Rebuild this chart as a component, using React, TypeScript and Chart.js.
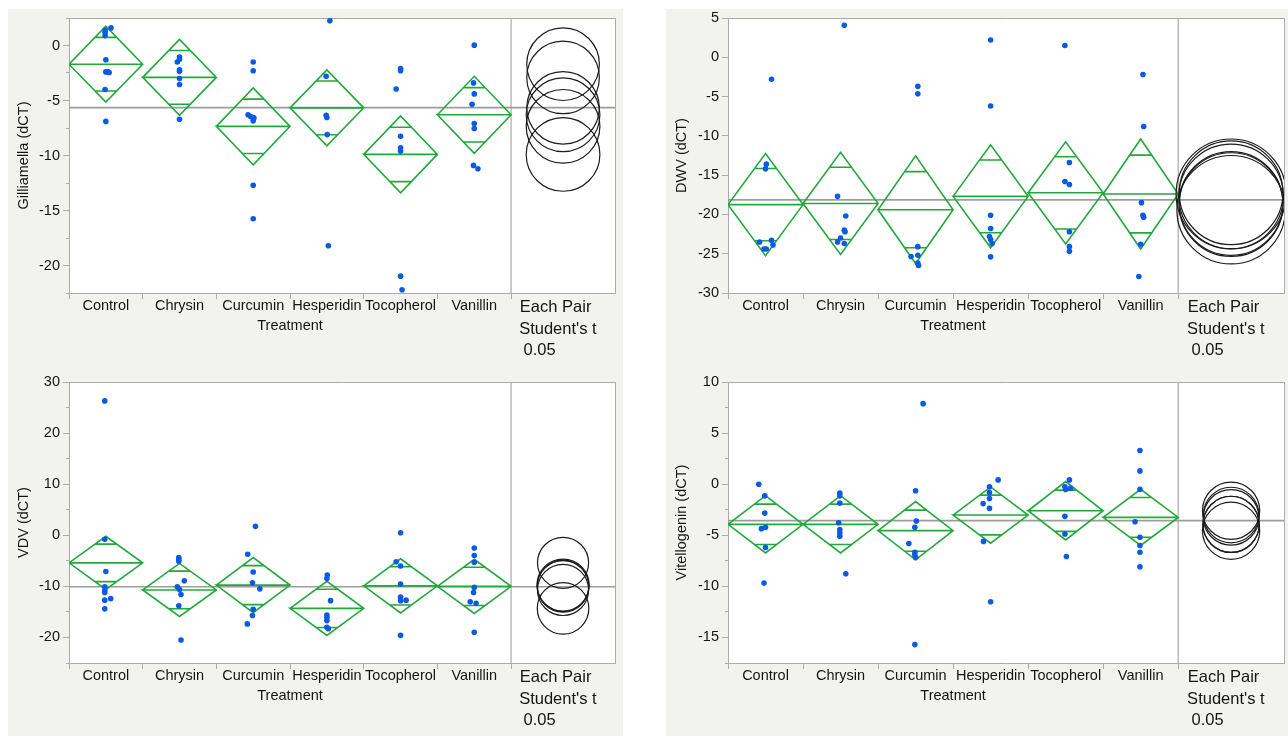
import React, { useEffect, useRef } from 'react';
import { Chart, registerables } from 'chart.js';

Chart.register(...registerables);

// ---------- shared labels ----------
const categories = ['Control', 'Chrysin', 'Curcumin', 'Hesperidin', 'Tocopherol', 'Vanillin'];
const pairLabel = ['Each Pair ', "Student's t", ' 0.05         '];
const xAxisTitle = 'Treatment';

// ---------- Gilliamella ----------
const gillPoints = [
  [1.6, 1.4, 1.2, 0.9, -1.3, -2.4, -2.4, -2.45, -4.0, -6.9],
  [-1.05, -1.25, -1.5, -2.2, -2.35, -3.0, -3.55, -6.7],
  [-1.5, -2.3, -6.3, -6.45, -6.55, -6.6, -6.85, -12.7, -15.75],
  [2.24, -2.8, -6.35, -6.55, -8.1, -18.2],
  [-2.1, -2.3, -3.95, -8.25, -9.3, -9.6, -20.97, -22.2],
  [0.03, -3.4, -4.4, -5.35, -7.1, -7.55, -10.9, -11.2],
];
const gillJitter = [
  [0.07, -0.01, -0.01, -0.01, 0, 0, 0.03, 0.045, -0.01, 0],
  [0, 0, -0.03, 0, 0, 0, 0, 0],
  [0, 0, -0.07, -0.035, 0, 0.01, 0, 0, 0],
  [0.04, -0.01, -0.01, 0, 0.005, 0.02],
  [0, 0, -0.06, 0, 0, 0, 0, 0.02],
  [0, -0.01, 0, -0.03, 0, 0, -0.01, 0.05],
];
const gillMeans = [-1.7, -2.9, -7.35, -5.67, -9.9, -6.3];
const gillCI = [3.45, 3.45, 3.5, 3.45, 3.5, 3.5];
const gillCircleR = [3.3, 3.3, 3.35, 3.3, 3.35, 3.35];
const gillGrandMean = -5.65;
const gillMajorTicks = [-20, -15, -10, -5, 0];
const gillMinorTicks = [-22.5, -17.5, -12.5, -7.5, -2.5, 2.5];

// ---------- DWV ----------
const dwvPoints = [
  [-2.8, -13.6, -14.2, -23.5, -23.3, -23.9, -24.4, -24.4],
  [4.07, -17.7, -20.2, -22.0, -22.2, -23.0, -23.5, -23.7],
  [-3.7, -4.65, -24.1, -25.35, -25.2, -26.2, -26.5],
  [2.2, -6.2, -20.1, -21.8, -22.8, -23.2, -23.7, -25.4],
  [1.5, -13.4, -15.8, -16.2, -22.2, -24.1, -24.7],
  [-2.2, -8.8, -18.5, -20.1, -20.35, -23.8, -27.9],
];
const dwvJitter = [
  [0.08, 0.01, 0, -0.08, 0.08, 0.1, -0.02, 0.01],
  [0.05, -0.04, 0.07, 0.05, 0.06, 0, -0.04, 0.05],
  [0.03, 0.03, 0.03, -0.06, 0.03, 0.03, 0.04],
  [0, 0, 0, 0, -0.015, 0, 0.02, 0],
  [-0.01, 0.05, -0.01, 0.05, 0.05, 0.05, 0.05],
  [0.03, 0.04, 0.01, 0.03, 0.04, 0, -0.025],
];
const dwvMeans = [-18.75, -18.6, -19.4, -17.7, -17.25, -17.4];
const dwvCI = [6.5, 6.5, 6.85, 6.55, 6.5, 7.0];
const dwvCircleR = [6.6, 6.6, 6.9, 6.65, 6.6, 7.0];
const dwvGrandMean = -18.15;
const dwvMajorTicks = [-30, -25, -20, -15, -10, -5, 0, 5];
const dwvMinorTicks = [-27.5, -22.5, -17.5, -12.5, -7.5, -2.5, 2.5];

// ---------- VDV ----------
const vdvPoints = [
  [26.3, -0.8, -7.1, -10.1, -10.8, -11.2, -12.4, -12.7, -14.4],
  [-4.35, -4.75, -5.1, -8.9, -10.1, -10.6, -11.6, -13.8, -20.5],
  [1.75, -3.7, -7.2, -9.3, -10.5, -14.5, -15.7, -17.35],
  [-7.8, -8.45, -12.8, -15.6, -16.1, -16.7, -18.0, -18.3],
  [0.5, -5.2, -6.0, -9.55, -12.1, -12.7, -12.8, -19.6],
  [-2.5, -3.95, -5.3, -10.2, -11.2, -13.0, -13.3, -19.0],
];
const vdvJitter = [
  [-0.015, -0.015, 0, -0.015, -0.015, -0.015, 0.066, -0.015, -0.015],
  [-0.01, -0.01, -0.01, 0.065, -0.03, 0, 0.02, -0.01, 0.02],
  [0.03, -0.075, 0, -0.01, 0.09, 0, -0.01, -0.08],
  [0.005, 0, 0.05, 0, 0, 0, 0, 0.02],
  [0, -0.06, 0, 0, 0, 0.075, 0, 0],
  [0, 0, 0, 0, -0.01, -0.055, 0.025, 0],
];
const vdvMeans = [-5.4, -10.7, -9.75, -14.3, -9.9, -10.0];
const vdvCI = [5.2, 5.2, 5.4, 5.3, 5.3, 5.3];
const vdvCircleR = [5.0, 5.0, 5.1, 5.05, 5.05, 5.05];
const vdvGrandMean = -10.07;
const vdvMajorTicks = [-20, -10, 0, 10, 20, 30];
const vdvMinorTicks = [-25, -15, -5, 5, 15, 25];

// ---------- Vitellogenin ----------
const vitPoints = [
  [0.0, -1.14, -2.83, -4.35, -4.22, -6.2, -9.68],
  [-0.88, -1.14, -1.85, -3.77, -4.45, -4.77, -5.1, -8.76],
  [7.88, -0.65, -3.6, -4.22, -5.8, -6.66, -6.92, -7.18, -15.7],
  [0.42, -0.26, -0.82, -1.4, -1.9, -2.37, -5.6, -11.5],
  [0.42, -0.26, -0.52, -0.4, -3.15, -4.87, -7.08],
  [3.3, 1.3, -0.49, -3.67, -5.2, -6.0, -6.66, -8.08],
];
const vitJitter = [
  [-0.09, -0.01, -0.01, -0.055, 0, 0, -0.02],
  [-0.01, -0.01, -0.01, -0.025, -0.01, -0.01, -0.01, 0.07],
  [0.1, 0, 0.01, -0.01, -0.09, -0.01, -0.01, 0, -0.01],
  [0.1, -0.015, -0.015, -0.015, -0.1, -0.015, -0.095, 0],
  [0.05, -0.01, 0, 0.065, -0.01, -0.01, 0.01],
  [-0.01, -0.01, -0.01, -0.075, -0.01, -0.01, -0.01, -0.01],
];
const vitMeans = [-3.93, -3.93, -4.55, -3.02, -2.6, -3.25];
const vitCI = [2.8, 2.8, 2.85, 2.75, 2.85, 2.75];
const vitCircleR = [2.75, 2.75, 2.8, 2.72, 2.8, 2.72];
const vitGrandMean = -3.57;
const vitMajorTicks = [-15, -10, -5, 0, 5, 10];
const vitMinorTicks = [-17.5, -12.5, -7.5, -2.5, 2.5, 7.5];

// ---------- styling / geometry ----------
const X_MAX = 7.41;
const SEP_X = 6;
const CIRCLE_X = 6.705;
const PAIR_X = 6.635;
const FONT = "'Liberation Sans', Arial, Helvetica, sans-serif";
const TEXT = '#141414';
const AXIS = '#ababab';
const GRAND = '#9c9c9c';
const GREEN = '#22a83c';
const BLUE = '#0a5be4';
const CIRCLE = '#1c1c1c';
const PANEL_BG = '#f2f2ee';

type Panel = {
  title: string;
  points: number[][];
  jitter: number[][];
  means: number[];
  ci: number[];
  circleR: number[];
  grand: number;
  yMin: number;
  yMax: number;
  major: number[];
  minor: number[];
  box: { left: number; top: number; width: number; height: number; yAxisW: number; padTop: number; padRight: number; xAxisH: number };
};

const panels: Panel[] = [
  {
    title: 'Gilliamella (dCT)', points: gillPoints, jitter: gillJitter, means: gillMeans, ci: gillCI,
    circleR: gillCircleR, grand: gillGrandMean, yMin: -22.5, yMax: 2.5, major: gillMajorTicks, minor: gillMinorTicks,
    box: { left: 8, top: 9, width: 615, height: 359, yAxisW: 61, padTop: 9, padRight: 8, xAxisH: 75 },
  },
  {
    title: 'DWV (dCT)', points: dwvPoints, jitter: dwvJitter, means: dwvMeans, ci: dwvCI,
    circleR: dwvCircleR, grand: dwvGrandMean, yMin: -30, yMax: 5, major: dwvMajorTicks, minor: dwvMinorTicks,
    box: { left: 666, top: 9, width: 622, height: 359, yAxisW: 62, padTop: 9, padRight: 4, xAxisH: 75 },
  },
  {
    title: 'VDV (dCT)', points: vdvPoints, jitter: vdvJitter, means: vdvMeans, ci: vdvCI,
    circleR: vdvCircleR, grand: vdvGrandMean, yMin: -25, yMax: 30, major: vdvMajorTicks, minor: vdvMinorTicks,
    box: { left: 8, top: 368, width: 615, height: 368, yAxisW: 61, padTop: 14, padRight: 8, xAxisH: 73 },
  },
  {
    title: 'Vitellogenin (dCT)', points: vitPoints, jitter: vitJitter, means: vitMeans, ci: vitCI,
    circleR: vitCircleR, grand: vitGrandMean, yMin: -17.5, yMax: 10, major: vitMajorTicks, minor: vitMinorTicks,
    box: { left: 666, top: 368, width: 622, height: 368, yAxisW: 62, padTop: 14, padRight: 4, xAxisH: 73 },
  },
];

const near = (a: number, b: number) => Math.abs(a - b) < 1e-6;

const plotBg = {
  id: 'plotBg',
  beforeDraw(chart: any) {
    const { ctx, chartArea: a } = chart;
    ctx.save();
    ctx.fillStyle = '#ffffff';
    ctx.fillRect(a.left, a.top, a.right - a.left, a.bottom - a.top);
    ctx.restore();
  },
};

function buildConfig(p: Panel): any {
  const pts: any[] = [];
  p.points.forEach((vals, i) =>
    vals.forEach((v, j) => pts.push({ x: i + 0.5 + (p.jitter[i][j] || 0), y: v }))
  );

  const green: any[] = [];
  const w = 0.5 * (1 - 1 / Math.SQRT2);
  p.means.forEach((m, i) => {
    const h = p.ci[i];
    const c = i + 0.5;
    const d = h / Math.SQRT2;
    green.push(
      { x: i, y: m }, { x: c, y: m + h }, { x: i + 1, y: m }, { x: c, y: m - h }, { x: i, y: m }, { x: i + 1, y: m },
      { x: c, y: null },
      { x: c - w, y: m + d }, { x: c + w, y: m + d }, { x: c, y: null },
      { x: c - w, y: m - d }, { x: c + w, y: m - d }, { x: c, y: null }
    );
  });

  const circles = p.means.map((m, i) => ({ x: CIRCLE_X, y: m, r: p.circleR[i] }));

  const xTicks: number[] = [0, 1, 2, 3, 4, 5, 6, 0.5, 1.5, 2.5, 3.5, 4.5, 5.5, PAIR_X].sort((a, b) => a - b);
  const yTicks: number[] = [...p.major, ...p.minor].sort((a, b) => a - b);

  const xLabel = (v: number) => {
    if (near(v, PAIR_X)) return pairLabel;
    if (near(v, 3)) return ['', xAxisTitle];
    const k = v - 0.5;
    if (near(k, Math.round(k)) && Math.round(k) >= 0 && Math.round(k) < categories.length) return categories[Math.round(k)];
    return '';
  };

  const b = p.box;

  return {
    type: 'scatter',
    data: {
      datasets: [
        { data: pts, backgroundColor: BLUE, borderWidth: 0, pointRadius: 2.8, pointHoverRadius: 2.8 },
        {
          data: circles,
          backgroundColor: 'rgba(0,0,0,0)',
          borderColor: CIRCLE,
          borderWidth: 1.2,
          pointStyle: 'circle',
          pointRadius: (c: any) => {
            const raw = c.raw;
            if (!raw || !c.chart.scales.y) return 0;
            const s = c.chart.scales.y;
            return Math.abs(s.getPixelForValue(raw.y + raw.r) - s.getPixelForValue(raw.y));
          },
        },
        {
          data: green, showLine: true, borderColor: GREEN, borderWidth: 1.6, pointRadius: 0,
          tension: 0, spanGaps: false, fill: false, borderJoinStyle: 'miter',
        },
        {
          data: [{ x: 0, y: p.grand }, { x: X_MAX, y: p.grand }], showLine: true, borderColor: GRAND,
          borderWidth: 1.6, pointRadius: 0, fill: false,
        },
        {
          data: [{ x: SEP_X, y: p.yMin }, { x: SEP_X, y: p.yMax }], showLine: true, borderColor: AXIS,
          borderWidth: 1.2, pointRadius: 0, fill: false,
        },
      ],
    },
    options: {
      animation: false,
      responsive: false,
      events: [],
      layout: { padding: { left: 0, top: b.padTop, right: b.padRight, bottom: 0 } },
      plugins: { legend: { display: false }, tooltip: { enabled: false } },
      scales: {
        x: {
          type: 'linear', position: 'bottom', min: 0, max: X_MAX,
          afterBuildTicks: (s: any) => { s.ticks = xTicks.map((v) => ({ value: v })); },
          afterFit: (s: any) => { s.height = b.xAxisH; s.paddingLeft = 0; s.paddingRight = 0; },
          grid: {
            display: true, drawOnChartArea: false, drawTicks: true, tickLength: 6, tickWidth: 1,
            tickColor: (c: any) => {
              const v = c.tick ? c.tick.value : NaN;
              return near(v, Math.round(v)) ? AXIS : 'rgba(0,0,0,0)';
            },
          },
          border: { display: true, color: AXIS, width: 1 },
          ticks: {
            autoSkip: false, maxRotation: 0, minRotation: 0, padding: -2, color: TEXT,
            font: (c: any) => {
              const v = c.tick ? c.tick.value : NaN;
              if (near(v, PAIR_X)) return { family: FONT, size: 16.5, lineHeight: '21.5px' };
              if (near(v, 3)) return { family: FONT, size: 14.5, lineHeight: '19.5px' };
              return { family: FONT, size: 14.5, lineHeight: 1.25 };
            },
            callback: (v: number) => xLabel(v),
          },
        },
        y: {
          type: 'linear', position: 'left', min: p.yMin, max: p.yMax,
          afterBuildTicks: (s: any) => { s.ticks = yTicks.map((v) => ({ value: v })); },
          afterFit: (s: any) => { s.width = b.yAxisW; s.paddingTop = 0; s.paddingBottom = 0; },
          grid: {
            display: true, drawOnChartArea: false, drawTicks: true, tickLength: 6, tickWidth: 1, tickColor: AXIS,
            tickBorderDash: (c: any) => {
              const v = c.tick ? c.tick.value : NaN;
              return p.minor.some((m) => near(m, v)) ? [0, 3, 20, 0] : [];
            },
          },
          border: { display: true, color: AXIS, width: 1 },
          ticks: {
            padding: 3, color: TEXT, font: { family: FONT, size: 14.5 },
            callback: (v: number) => (p.major.some((m) => near(m, v)) ? String(v) : ''),
          },
          title: {
            display: true, text: p.title, color: TEXT, font: { family: FONT, size: 14.5 },
            padding: { top: 7, bottom: 0 },
          },
        },
        xTop: {
          type: 'linear', position: 'top', display: true, min: 0, max: 1,
          grid: { display: true, drawOnChartArea: false, drawTicks: false },
          ticks: { display: false },
          border: { display: true, color: AXIS, width: 1 },
          afterFit: (s: any) => { s.height = 0; s.paddingLeft = 0; s.paddingRight = 0; },
        },
        yRight: {
          type: 'linear', position: 'right', display: true, min: 0, max: 1,
          grid: { display: true, drawOnChartArea: false, drawTicks: false },
          ticks: { display: false },
          border: { display: true, color: AXIS, width: 1 },
          afterFit: (s: any) => { s.width = 0; s.paddingTop = 0; s.paddingBottom = 0; },
        },
      },
    },
    plugins: [plotBg],
  };
}

function PanelChart({ panel }: { panel: Panel }) {
  const ref = useRef<HTMLCanvasElement | null>(null);
  useEffect(() => {
    if (!ref.current) return;
    const chart = new Chart(ref.current, buildConfig(panel));
    return () => chart.destroy();
  }, [panel]);
  const b = panel.box;
  return (
    <canvas
      ref={ref}
      width={b.width}
      height={b.height}
      style={{
        position: 'absolute', left: b.left, top: b.top, width: b.width, height: b.height,
        background: PANEL_BG, display: 'block',
      }}
    />
  );
}

export default function App() {
  return (
    <div style={{ position: 'fixed', left: 0, top: 0, width: 1288, height: 736, background: '#ffffff', overflow: 'hidden' }}>
      {panels.map((p) => (
        <PanelChart key={p.title} panel={p} />
      ))}
    </div>
  );
}
